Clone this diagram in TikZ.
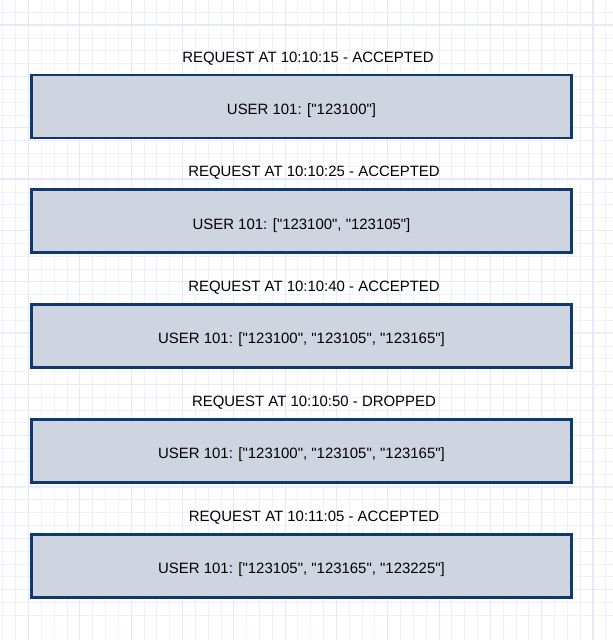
\documentclass[tikz,border=0pt]{standalone}
\usepackage{fontspec}
\setmainfont{Liberation Sans}[Ligatures=TeXOff]
\definecolor{gridminor}{HTML}{F0F0FE}
\definecolor{gridmajor}{HTML}{E8E8FC}
\definecolor{boxfill}{HTML}{CED5E0}
\definecolor{boxdraw}{HTML}{103A6E}
\begin{document}
\begin{tikzpicture}[x=1bp,y=-1bp,
  lbl/.style={font=\fontsize{15}{18}\selectfont, anchor=base, inner sep=0pt, text=black},
  slot/.style={draw=boxdraw, fill=boxfill, line width=2.7bp}]
\useasboundingbox (0,0) rectangle (613,640);
\fill[white] (0,0) rectangle (613,640);
% minor grid
\foreach \i in {0,...,48} {
  \draw[gridminor, line width=1bp] ({2.9+12.83*\i},0) -- ({2.9+12.83*\i},640);
  \draw[gridminor, line width=1bp] (0,{-0.4+12.83*\i}) -- (613,{-0.4+12.83*\i});
}
% major grid
\foreach \i in {0,...,12} {
  \draw[gridmajor, line width=1.1bp] ({28.5+51.32*\i},0) -- ({28.5+51.32*\i},640);
  \draw[gridmajor, line width=1.1bp] (0,{25+51.32*\i}) -- (613,{25+51.32*\i});
}
\foreach \k/\tx/\title/\bx in {
  0/308/{REQUEST AT 10:10:15 - ACCEPTED}/{USER 101: ["123100"]},
  1/314/{REQUEST AT 10:10:25 - ACCEPTED}/{USER 101: ["123100", "123105"]},
  2/314/{REQUEST AT 10:10:40 - ACCEPTED}/{USER 101: ["123100", "123105", "123165"]},
  3/314/{REQUEST AT 10:10:50 - DROPPED}/{USER 101: ["123100", "123105", "123165"]},
  4/314/{REQUEST AT 10:11:05 - ACCEPTED}/{USER 101: ["123105", "123165", "123225"]}} {
  \pgfmathsetmacro{\top}{75+114.8*\k}
  \draw[slot] (31.8,\top) rectangle (571.3,\top+63);
  \node[lbl] (title\k) at (\tx,\top-12.8) {\title};
  \node[lbl] (box\k) at (301.5,\top+39.2) {\bx};
}
\end{tikzpicture}
\end{document}
